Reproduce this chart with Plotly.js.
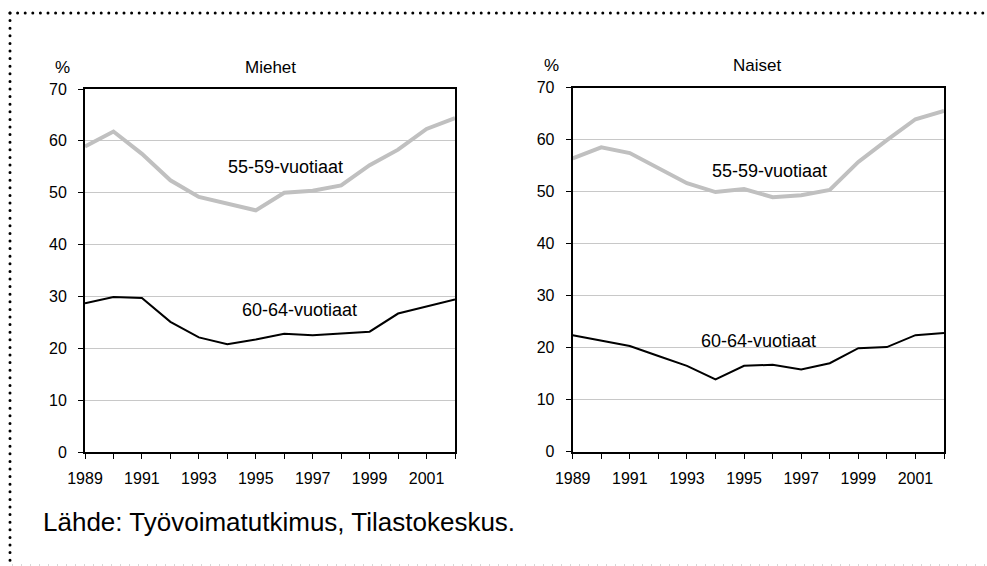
<!DOCTYPE html>
<html>
<head>
<meta charset="utf-8">
<script src="https://cdn.plot.ly/plotly-3.0.1.min.js"></script>
<style>
  html, body { margin: 0; padding: 0; background: #fff; }
  #wrap { position: relative; width: 987px; height: 566px; overflow: hidden; }
  #chart { position: absolute; left: 0; top: 0; width: 987px; height: 566px; }
  #frame { position: absolute; left: 0; top: 0; pointer-events: none; }
</style>
</head>
<body>
<div id="wrap">
  <div id="chart"></div>
  <svg id="frame" width="987" height="566">
    <line x1="10" y1="13" x2="987" y2="13" stroke="#000" stroke-width="3" stroke-linecap="round" stroke-dasharray="0 7.6"/>
    <line x1="10" y1="13" x2="10" y2="566" stroke="#000" stroke-width="3" stroke-linecap="round" stroke-dasharray="0 7.6"/>
    <line x1="12" y1="565" x2="987" y2="565" stroke="#b0b0b0" stroke-width="1" stroke-dasharray="1 8"/>
  </svg>
</div>
<script>
// ---- data ----
const years = [1989,1990,1991,1992,1993,1994,1995,1996,1997,1998,1999,2000,2001,2002];
const men5559   = [58.9,61.8,57.5,52.4,49.2,47.8,46.6,50.0,50.4,51.4,55.3,58.3,62.3,64.4];
const men6064   = [28.7,29.9,29.7,25.1,22.1,20.8,21.7,22.8,22.5,22.9,23.2,26.7,28.1,29.4];
const women5559 = [56.4,58.5,57.4,54.4,51.6,49.9,50.5,48.9,49.3,50.3,55.7,59.9,63.9,65.5];
const women6064 = [22.4,21.3,20.3,18.4,16.5,13.9,16.5,16.7,15.8,17.0,19.9,20.1,22.4,22.8];
const xTickLabels = years.map(y => ((y - 1989) % 2 === 0) ? String(y) : '');
const yTickVals = [0,10,20,30,40,50,60,70];
const panelTitles = ['Miehet', 'Naiset'];
const seriesNames = ['55-59-vuotiaat', '60-64-vuotiaat'];
const unitLabel = '%';
const sourceText = 'Lähde: Työvoimatutkimus, Tilastokeskus.';

// ---- layout helpers (pixel -> paper) ----
const W = 987, H = 566;
const px = x => x / W;
const py = y => 1 - y / H;
const FONT = 'Liberation Sans, Arial, sans-serif';

const gray = '#c0c0c0';
const traces = [
  {x: years, y: men5559,   xaxis: 'x',  yaxis: 'y',  mode: 'lines', line: {color: gray, width: 4}, name: seriesNames[0]},
  {x: years, y: men6064,   xaxis: 'x',  yaxis: 'y',  mode: 'lines', line: {color: '#000', width: 2}, name: seriesNames[1]},
  {x: years, y: women5559, xaxis: 'x2', yaxis: 'y2', mode: 'lines', line: {color: gray, width: 4}, name: seriesNames[0]},
  {x: years, y: women6064, xaxis: 'x2', yaxis: 'y2', mode: 'lines', line: {color: '#000', width: 2}, name: seriesNames[1]}
];

function xAxis(domain, anchor) {
  return {
    domain: domain, anchor: anchor, range: [1989, 2002],
    tickmode: 'array', tickvals: years, ticktext: xTickLabels,
    ticks: 'outside', ticklen: 5, tickwidth: 1, tickcolor: '#000',
    showline: true, linecolor: '#000', linewidth: 2, mirror: true,
    showgrid: false, zeroline: false,
    tickfont: {family: FONT, size: 16, color: '#000'},
    ticklabelstandoff: 6, fixedrange: true
  };
}
function yAxis(domain, anchor) {
  return {
    domain: domain, anchor: anchor, range: [0, 70],
    tickmode: 'array', tickvals: yTickVals,
    ticks: 'outside', ticklen: 5, tickwidth: 1, tickcolor: '#000',
    showline: true, linecolor: '#000', linewidth: 2, mirror: true,
    showgrid: true, gridcolor: '#c8c8c8', gridwidth: 1, zeroline: false,
    tickfont: {family: FONT, size: 16, color: '#000'},
    ticklabelstandoff: 8, fixedrange: true
  };
}

const ann = (text, x, y, opts) => Object.assign({
  text: text, x: x, y: y, xref: 'paper', yref: 'paper',
  showarrow: false, xanchor: 'center', yanchor: 'middle',
  font: {family: FONT, size: 17, color: '#000'}
}, opts || {});

const layout = {
  width: W, height: H,
  margin: {l: 0, r: 0, t: 0, b: 0, pad: 0},
  paper_bgcolor: 'rgba(0,0,0,0)', plot_bgcolor: 'rgba(0,0,0,0)',
  showlegend: false,
  xaxis:  xAxis([px(85), px(455)], 'y'),
  yaxis:  yAxis([py(452), py(89)], 'x'),
  xaxis2: xAxis([px(572.7), px(944)], 'y2'),
  yaxis2: yAxis([py(451.7), py(87.5)], 'x2'),
  annotations: [
    ann(unitLabel, px(63), py(68)),
    ann(panelTitles[0], px(270), py(68)),
    ann(unitLabel, px(551), py(65)),
    ann(panelTitles[1], px(757), py(65)),
    ann(seriesNames[0], 1996.05, 55.0, {xref: 'x', yref: 'y', font: {family: FONT, size: 18, color: '#000'}}),
    ann(seriesNames[1], 1996.55, 27.4, {xref: 'x', yref: 'y', font: {family: FONT, size: 18, color: '#000'}}),
    ann(seriesNames[0], 1995.9, 53.9, {xref: 'x2', yref: 'y2', font: {family: FONT, size: 18, color: '#000'}}),
    ann(seriesNames[1], 1995.5, 21.3, {xref: 'x2', yref: 'y2', font: {family: FONT, size: 18, color: '#000'}}),
    ann(sourceText, px(41), py(522), {xanchor: 'left', font: {family: FONT, size: 26, color: '#000'}})
  ]
};

Plotly.newPlot('chart', traces, layout, {displayModeBar: false, staticPlot: true});
</script>
</body>
</html>
